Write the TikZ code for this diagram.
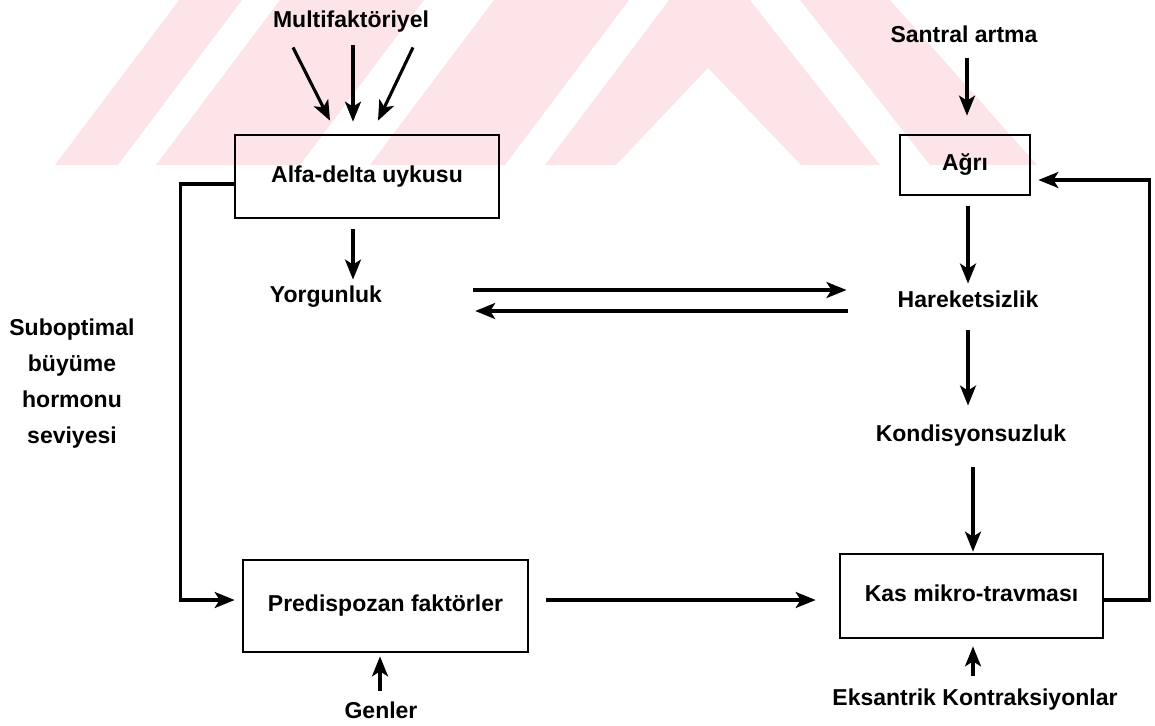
\documentclass[tikz,border=0pt]{standalone}
\usepackage{fontspec}
\setmainfont{Liberation Sans}
\usetikzlibrary{arrows.meta,calc}
\definecolor{wm}{RGB}{252,228,232}
\begin{document}
\begin{tikzpicture}[x=1pt,y=-1pt,
  lbl/.style={font=\fontsize{23}{27}\selectfont\bfseries, inner sep=0pt, text height=16pt, text depth=4.5pt},
  box/.style={lbl, draw, line width=2.7pt},
  arr/.style={line width=3.1pt, -{Stealth[length=20pt,width=16pt,inset=5pt]}}]
\useasboundingbox (0,0) rectangle (1155,725);
% watermark
\fill[wm] (55,165) -- (118,165) -- (242,0) -- (179,0) -- cycle;
\fill[wm] (156,165) -- (300,165) -- (424,0) -- (280,0) -- cycle;
\fill[wm] (370,165) -- (505,165) -- (629,0) -- (494,0) -- cycle;
\fill[wm] (545,165) -- (669,0) -- (750,0) -- (880,165) -- (801,165) -- (708,68) -- (616,165) -- cycle;
\fill[wm] (800,0) -- (890,0) -- (1037,165) -- (930,165) -- cycle;
% nodes
\node[lbl] (multi) at (351,22) {Multifaktöriyel};
\node[box, minimum width=264pt, minimum height=83pt] (alfa) at (367,176.5) {Alfa-delta uykusu};
\node[lbl] (yorg) at (326,297) {Yorgunluk};
\node[lbl] (sant) at (964,37) {Santral artma};
\node[box, minimum width=130pt, minimum height=60pt] (agri) at (965,165) {Ağrı};
\node[lbl] (hark) at (968,302) {Hareketsizlik};
\node[lbl] (kond) at (971,436) {Kondisyonsuzluk};
\node[box, minimum width=263pt, minimum height=84pt] (kas) at (971.5,596) {Kas mikro-travması};
\node[box, minimum width=285pt, minimum height=92pt] (pred) at (385.5,606) {Predispozan faktörler};
\node[lbl] (gen) at (381,713) {Genler};
\node[lbl] (eks) at (975,700) {Eksantrik Kontraksiyonlar};
\node[font=\fontsize{23}{36}\selectfont\bfseries, inner sep=0pt, align=center] (subopt) at (72,384) {Suboptimal\\büyüme\\hormonu\\seviyesi};
% connectors
\draw[arr] ($(multi.south)+(-58,15)$) -- ($(alfa.north)+(-37,-13)$);
\draw[arr] ($(multi.south)+(2,13)$) -- ($(alfa.north)+(-14,-12)$);
\draw[arr] ($(multi.south)+(62,15)$) -- ($(alfa.north)+(11,-13)$);
\draw[arr] ($(alfa.south)+(-14,10)$) -- ($(yorg.north)+(27,-7)$);
\draw[arr] ($(yorg.east)+(91,-7)$) -- ($(hark.west)+(-51,-12)$);
\draw[arr] ($(hark.west)+(-49,9)$) -- ($(yorg.east)+(93,14)$);
\draw[arr] ($(sant.south)+(3,11)$) -- ($(agri.north)+(2,-18)$);
\draw[arr] ($(agri.south)+(3,10)$) -- ($(hark.north)+(0,-8)$);
\draw[arr] ($(hark.south)+(0,18)$) -- ($(kond.north)+(-3,-20)$);
\draw[arr] ($(kond.south)+(2,21)$) -- ($(kas.north)+(1.5,-1)$);
\draw[arr] ($(eks.north)+(-2,-14)$) -- ($(kas.south)+(1.5,7)$);
\draw[arr] ($(gen.north)+(-1,-12)$) -- ($(pred.south)+(-5.5,3)$);
\draw[arr] ($(pred.east)+(17,-6)$) -- ($(kas.west)+(-23,4)$);
\draw[arr] ($(alfa.west)+(0,7.5)$) -- ++(-53,0) |- ($(pred.west)+(-7,-6)$);
\draw[arr] ($(kas.east)+(0,4)$) -- ++(45,0) |- ($(agri.east)+(7,15)$);
\end{tikzpicture}
\end{document}
